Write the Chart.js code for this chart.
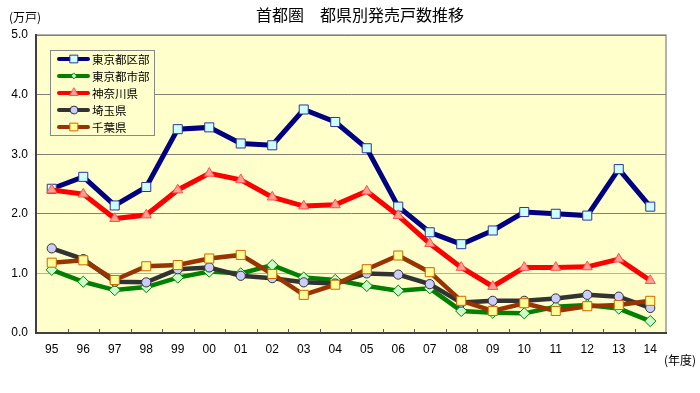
<!DOCTYPE html>
<html>
<head>
<meta charset="utf-8">
<script src="https://cdn.jsdelivr.net/npm/chart.js@4.4.0/dist/chart.umd.min.js"></script>
<style>body{margin:0;background:#fff}</style>
</head>
<body>
<canvas id="myChart" width="700" height="393"></canvas>
<script>
var myChart = document.getElementById("myChart").getContext('2d');

const years = ['95','96','97','98','99','00','01','02','03','04','05','06','07','08','09','10','11','12','13','14'];
const seriesNames = ['東京都区部','東京都市部','神奈川県','埼玉県','千葉県'];
const tokyoKu   = [2.42,2.62,2.14,2.45,3.42,3.45,3.18,3.15,3.75,3.54,3.10,2.12,1.69,1.49,1.72,2.03,2.00,1.97,2.75,2.12];
const tokyoShi  = [1.06,0.86,0.72,0.77,0.93,1.03,1.00,1.14,0.93,0.89,0.79,0.71,0.75,0.37,0.34,0.33,0.44,0.47,0.41,0.20];
const kanagawa  = [2.40,2.33,1.92,1.98,2.40,2.68,2.57,2.28,2.13,2.15,2.38,1.97,1.50,1.10,0.78,1.10,1.10,1.11,1.24,0.88];
const saitama   = [1.42,1.24,0.86,0.85,1.07,1.10,0.96,0.92,0.85,0.83,1.00,0.98,0.82,0.51,0.54,0.54,0.58,0.64,0.61,0.42];
const chiba     = [1.18,1.22,0.89,1.12,1.14,1.25,1.31,0.99,0.64,0.81,1.07,1.30,1.02,0.54,0.37,0.50,0.37,0.45,0.47,0.54];
const yTicks = [0,1,2,3,4,5];

const numFont = "'Liberation Sans', Arial, 'Noto Sans CJK JP', sans-serif";
const jpFont = "'Noto Sans CJK JP', sans-serif";

// line colour, point fill, point border, point style, radius, line width
const styles = [
  {line:'#000080', fill:'#ccffff', border:'#333399', point:'rect',     r:6.4, w:5},
  {line:'#008000', fill:'#ccffcc', border:'#008000', point:'rectRot',  r:5.6, w:4.5},
  {line:'#ff0000', fill:'#ffa090', border:'#ff5050', point:'triangle', r:5.8, w:5},
  {line:'#333333', fill:'#ccccff', border:'#333333', point:'circle',   r:4.6, w:4.5},
  {line:'#993300', fill:'#ffff99', border:'#cc6600', point:'rect',     r:6.4, w:4.5}
];
const values = [tokyoKu, tokyoShi, kanagawa, saitama, chiba];

function drawMarker(ctx, type, x, y, r) {
  ctx.beginPath();
  if (type === 'rect') {
    const s = Math.SQRT1_2 * r;
    ctx.rect(x - s, y - s, 2 * s, 2 * s);
  } else if (type === 'rectRot') {
    const s = Math.SQRT1_2 * r;
    ctx.moveTo(x - s, y); ctx.lineTo(x, y + s); ctx.lineTo(x + s, y); ctx.lineTo(x, y - s); ctx.closePath();
  } else if (type === 'triangle') {
    ctx.moveTo(x, y - r);
    ctx.lineTo(x + r * Math.sin(Math.PI / 3), y + r / 2);
    ctx.lineTo(x - r * Math.sin(Math.PI / 3), y + r / 2);
    ctx.closePath();
  } else {
    ctx.arc(x, y, r, 0, Math.PI * 2);
  }
  ctx.fill();
  ctx.stroke();
}

const decor = {
  id: 'decor',
  beforeDraw(chart) {
    const {ctx, chartArea: a} = chart;
    ctx.save();
    ctx.fillStyle = '#ffffcc';
    ctx.fillRect(a.left, a.top, a.right - a.left, a.bottom - a.top);
    ctx.strokeStyle = '#999999';
    ctx.lineWidth = 1.5;
    ctx.strokeRect(a.left, a.top, a.right - a.left, a.bottom - a.top);
    ctx.restore();
  },
  beforeDatasetsDraw(chart) {
    // small tick marks pointing into the plot between categories
    const {ctx, chartArea: a, scales} = chart;
    ctx.save();
    ctx.strokeStyle = '#555555';
    ctx.lineWidth = 1;
    for (let i = 1; i < years.length; i++) {
      const x = Math.round((scales.x.getPixelForValue(i - 1) + scales.x.getPixelForValue(i)) / 2) + 0.5;
      ctx.beginPath();
      ctx.moveTo(x, a.bottom);
      ctx.lineTo(x, a.bottom - 4);
      ctx.stroke();
    }
    ctx.restore();
  },
  afterDraw(chart) {
    const {ctx, chartArea: a} = chart;
    ctx.save();
    ctx.fillStyle = '#000';
    ctx.textBaseline = 'middle';
    ctx.textAlign = 'center';
    ctx.font = "16px " + jpFont;
    ctx.fillText('首都圏　都県別発売戸数推移', 360, 15);
    ctx.font = "12px " + jpFont;
    ctx.textAlign = 'left';
    ctx.fillText('(万戸)', 9, 17);
    ctx.fillText('(年度)', 664, 360);

    // legend box
    const lx = 50, ly = 50, lw = 104, lh = 85;
    ctx.fillStyle = '#ffffcc';
    ctx.fillRect(lx, ly, lw, lh);
    ctx.strokeStyle = '#888888';
    ctx.lineWidth = 1;
    ctx.strokeRect(lx + 0.5, ly + 0.5, lw, lh);
    ctx.font = "11.5px " + jpFont;
    for (let i = 0; i < seriesNames.length; i++) {
      const st = styles[i];
      const y = 59 + i * 17;
      ctx.strokeStyle = st.line;
      ctx.lineWidth = 4;
      ctx.lineCap = 'round';
      ctx.beginPath();
      ctx.moveTo(59, y);
      ctx.lineTo(88, y);
      ctx.stroke();
      ctx.fillStyle = st.fill;
      ctx.strokeStyle = st.border;
      ctx.lineWidth = 1;
      drawMarker(ctx, st.point, 74, y, st.r * (st.point === 'rectRot' ? 0.7 : 0.85));
      ctx.fillStyle = '#000';
      ctx.fillText(seriesNames[i], 92, y + 1);
    }
    ctx.restore();
  }
};

new Chart(myChart, {
  type: 'line',
  data: {
    labels: years,
    datasets: seriesNames.map((name, i) => ({
      label: name,
      data: values[i],
      borderColor: styles[i].line,
      borderWidth: styles[i].w,
      backgroundColor: styles[i].fill,
      pointBackgroundColor: styles[i].fill,
      pointBorderColor: styles[i].border,
      pointBorderWidth: 1,
      pointStyle: styles[i].point,
      pointRadius: styles[i].r,
      pointHoverRadius: styles[i].r,
      tension: 0,
      fill: false,
      order: seriesNames.length - i
    }))
  },
  options: {
    responsive: false,
    animation: false,
    layout: {padding: {top: 35, right: 34, left: 0, bottom: 0}},
    plugins: {legend: {display: false}, title: {display: false}, tooltip: {enabled: false}},
    scales: {
      x: {
        offset: true,
        grid: {display: true, drawOnChartArea: false, drawTicks: false, offset: true},
        border: {display: true, color: '#404040', width: 2},
        ticks: {color: '#000', font: {family: numFont, size: 12}, padding: 9, maxRotation: 0, autoSkip: false},
        afterFit(scale) { scale.height = 60; }
      },
      y: {
        min: 0,
        max: 5,
        afterBuildTicks(scale) { scale.ticks = yTicks.map(v => ({value: v})); },
        grid: {
          drawTicks: false,
          lineWidth: 1,
          color: (c) => c.tick.value === 0 ? 'rgba(0,0,0,0)' : (c.tick.value === 1 ? '#b8b49a' : '#808078')
        },
        border: {display: true, color: '#404040', width: 2},
        ticks: {color: '#000', font: {family: numFont, size: 12}, padding: 8,
                callback: (v) => Number(v).toFixed(1)},
        afterFit(scale) { scale.width = 36; }
      }
    }
  },
  plugins: [decor]
});
</script>
</body>
</html>
